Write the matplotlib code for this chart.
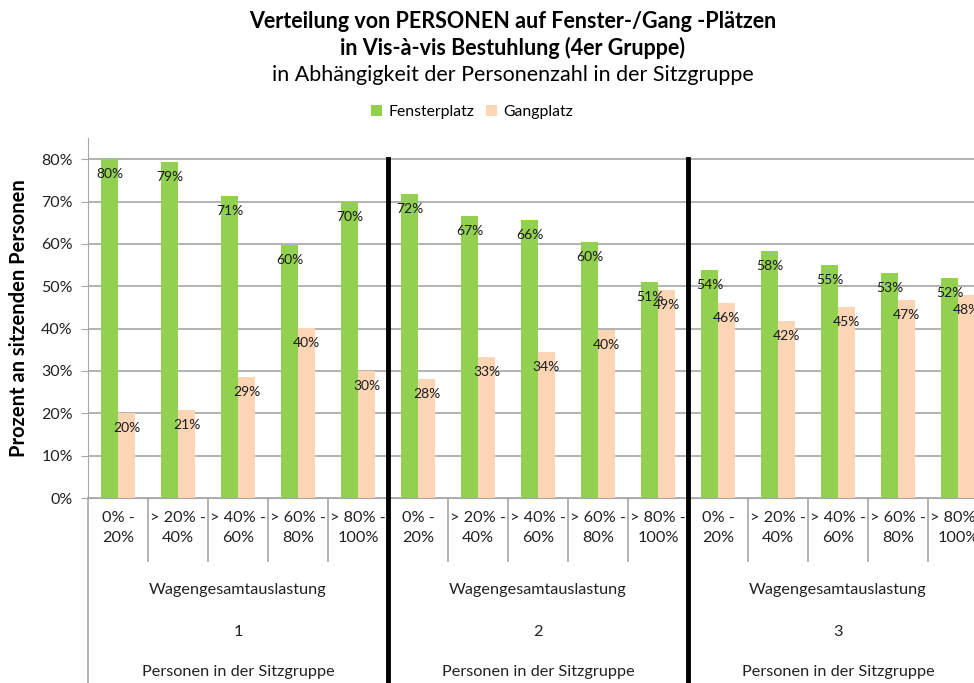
import matplotlib
matplotlib.use('Agg')
import matplotlib.pyplot as plt
import numpy as np

plt.rcParams['font.family'] = ['Lato', 'DejaVu Sans']

# data
categories = ['0% -\n20%', '> 20% -\n40%', '> 40% -\n60%', '> 60% -\n80%', '> 80% -\n100%']
groups = ['1', '2', '3']
fenster = [80.0, 79.3, 71.4, 59.8, 70.0,
           71.8, 66.6, 65.6, 60.4, 50.9,
           53.9, 58.3, 55.0, 53.2, 52.0]
gang = [20.0, 20.7, 28.6, 40.2, 30.0,
        28.2, 33.4, 34.4, 39.6, 49.1,
        46.1, 41.7, 45.0, 46.8, 48.0]

green = '#92D050'
peach = '#FCD5B5'

W, H = 974, 683
fig = plt.figure(figsize=(W / 100, H / 100), dpi=100)
# plot area: y-axis at x=88, zero line at y=498, top at y=138, 60px per category
ax = fig.add_axes([88 / W, 1 - 498 / H, 900 / W, 360 / H])

n = len(fenster)
x = np.arange(n)
bw = 0.283
b1 = ax.bar(x - bw / 2, fenster, bw, color=green, label='Fensterplatz', zorder=2)
b2 = ax.bar(x + bw / 2, gang, bw, color=peach, label='Gangplatz', zorder=2)

for bars, vals in [(b1, fenster), (b2, gang)]:
    for r, v in zip(bars, vals):
        ax.annotate(f'{round(v):.0f}%', (r.get_x() + r.get_width() / 2, v),
                    xytext=(0, -15), textcoords='offset pixels',
                    ha='center', va='center', fontsize=10, color='#1a1a1a', zorder=3)

ax.set_xlim(-0.5, n - 0.5)
ax.set_ylim(0, 85)
ax.set_yticks(range(0, 90, 10))
ax.set_yticklabels([f'{v}%' for v in range(0, 90, 10)], fontsize=11.5, color='#222222')
ax.yaxis.grid(True, color='#a6a6a6', linewidth=1.2, zorder=0)
ax.set_axisbelow(True)
ax.set_xticks([])
for s in ['top', 'right']:
    ax.spines[s].set_visible(False)
ax.spines['left'].set_color('#a6a6a6')
ax.spines['bottom'].set_color('#a6a6a6')
ax.tick_params(axis='y', length=5, color='#a6a6a6', pad=6)

ax.set_ylabel('Prozent an sitzenden Personen', fontsize=14.5, fontweight='bold', labelpad=9)

# multi-level category axis below the plot
tr = ax.get_xaxis_transform()
def yf(py):
    return (498 - py) / 360

for i in range(n):
    ax.text(i, yf(528), categories[i % 5], transform=tr, ha='center', va='center',
            fontsize=11.7, color='#222222', linespacing=1.55, clip_on=False)
for k in range(n - 1):
    if (k + 1) % 5 != 0:
        ax.plot([k + 0.5, k + 0.5], [0, yf(561)], transform=tr, color='#a6a6a6',
                linewidth=1.2, clip_on=False)
ax.plot([-0.5, -0.5], [0, yf(690)], transform=tr, color='#a6a6a6', linewidth=1.2, clip_on=False)
for gi, g in enumerate(groups):
    cx = gi * 5 + 2
    ax.text(cx, yf(590), 'Wagengesamtauslastung', transform=tr, ha='center', va='center',
            fontsize=11.7, color='#222222', clip_on=False)
    ax.text(cx, yf(632), g, transform=tr, ha='center', va='center',
            fontsize=11.7, color='#222222', clip_on=False)
    ax.text(cx, yf(672), 'Personen in der Sitzgruppe', transform=tr, ha='center', va='center',
            fontsize=11.7, color='#222222', clip_on=False)
for sep in [4.5, 9.5]:
    ax.plot([sep, sep], [80 / 85, yf(690)], transform=tr, color='black',
            linewidth=3.5, clip_on=False, zorder=5)

# titles and legend
fig.text(513 / W, 1 - 21 / H, 'Verteilung von PERSONEN auf Fenster-/Gang -Plätzen',
         ha='center', va='center', fontsize=15.5, fontweight='bold')
fig.text(513 / W, 1 - 48 / H, 'in Vis-à-vis Bestuhlung (4er Gruppe)',
         ha='center', va='center', fontsize=15.5, fontweight='bold')
fig.text(513 / W, 1 - 75 / H, 'in Abhängigkeit der Personenzahl in der Sitzgruppe',
         ha='center', va='center', fontsize=15.5)
fig.legend(handles=[b1, b2], loc='center', bbox_to_anchor=(472 / W, 1 - 112 / H), ncol=2,
           frameon=False, fontsize=11.3, handlelength=0.7, handleheight=0.7,
           handletextpad=0.4, columnspacing=0.7)

fig.savefig('out.png', dpi=100)
